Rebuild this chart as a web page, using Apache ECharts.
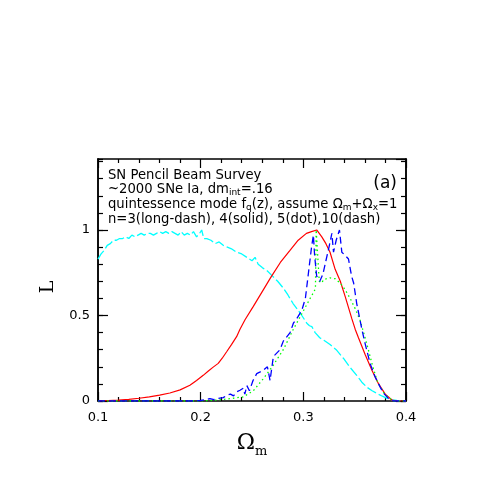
<!DOCTYPE html>
<html>
<head>
<meta charset="utf-8">
<script src="https://cdn.jsdelivr.net/npm/echarts@6/dist/echarts.min.js"></script>
<style>
html, body { margin: 0; padding: 0; background: #fff; }
#chart { width: 491px; height: 491px; }
</style>
</head>
<body>
<div id="chart"></div>
<script>
// n=3, long-dash (cyan)
var omegaN3 = [0.100,0.103,0.106,0.109,0.112,0.115,0.118,0.121,0.124,0.127,0.130,0.133,0.136,0.139,0.142,0.145,0.148,0.151,0.154,0.157,0.160,0.163,0.166,0.169,0.172,0.175,0.178,0.181,0.184,0.187,0.190,0.193,0.196,0.199,
  0.201,0.203,0.206,0.210,0.214,0.218,0.222,0.226,0.230,0.235,0.240,0.245,0.250,0.253,0.256,0.260,0.265,0.270,0.275,0.2805,0.285,0.290,0.295,0.2985,0.3034,0.306,0.3083,0.3115,0.316,
  0.320,0.326,0.332,0.339,0.345,0.352,0.357,0.362,0.367,0.372,0.377,0.382,0.387,0.391,0.395,0.400];
var likeN3 = [0.83,0.86,0.88,0.91,0.92,0.94,0.94,0.95,0.95,0.96,0.95,0.97,0.96,0.97,0.98,0.97,0.98,0.98,0.97,0.98,0.99,0.98,0.99,0.98,0.99,0.98,0.97,0.99,0.97,0.98,0.97,0.99,0.96,0.98,
  1.00,0.95,0.95,0.94,0.92,0.93,0.91,0.90,0.89,0.87,0.86,0.84,0.82,0.84,0.80,0.78,0.76,0.73,0.70,0.66,0.62,0.57,0.53,0.50,0.455,0.44,0.435,0.40,0.37,
  0.355,0.33,0.30,0.25,0.20,0.15,0.11,0.08,0.06,0.043,0.028,0.014,0.007,0.003,0.001,0];

// n=4, solid (red)
var omegaN4 = [0.100,0.110,0.120,0.130,0.140,0.150,0.160,0.170,0.180,0.1895,0.196,0.2025,0.2075,0.2122,0.2171,0.221,0.2253,0.230,0.235,0.2383,0.2432,0.2513,0.256,0.261,0.268,0.2776,0.287,0.295,0.303,
  0.308,0.313,0.318,0.322,0.326,0.331,0.336,0.3408,0.3473,0.3505,0.3537,0.357,0.3603,0.3668,0.3733,0.3798,0.3863,0.392,0.400];
var likeN4 = [0,0.002,0.005,0.01,0.016,0.024,0.034,0.047,0.065,0.092,0.12,0.15,0.175,0.198,0.22,0.25,0.288,0.33,0.376,0.42,0.475,0.553,0.60,0.65,0.72,0.81,0.88,0.94,0.98,
  0.99,1.00,0.96,0.92,0.87,0.77,0.70,0.61,0.48,0.42,0.37,0.32,0.27,0.18,0.10,0.04,0.006,0,0];

// n=5, dot (green)
var omegaN5 = [0.100,0.200,0.210,0.220,0.230,0.2415,0.2513,0.261,0.2708,0.2805,0.2903,0.2985,0.3066,0.3105,0.3118,0.3125,0.3140,0.3155,0.318,0.3196,
  0.3261,0.331,0.3359,0.3408,0.3456,0.3505,0.3554,0.362,0.3668,0.3717,0.3781,0.383,0.3879,0.400];
var likeN5 = [0,0,0.003,0.008,0.015,0.024,0.06,0.13,0.21,0.30,0.42,0.51,0.60,0.64,0.66,1.00,0.85,0.70,0.69,0.71,
  0.72,0.715,0.69,0.65,0.60,0.54,0.47,0.33,0.22,0.12,0.05,0.02,0,0];

// n=10, dash (blue)
var omegaN10 = [0.100,0.195,0.200,0.205,0.209,0.213,0.217,0.222,0.226,0.229,0.232,0.235,0.2383,0.2416,0.243,0.245,0.2475,0.251,0.2546,0.258,
  0.261,0.265,0.2676,0.2708,0.2773,0.2805,0.2871,0.2903,0.2945,0.2985,0.302,0.305,0.308,0.3098,0.311,0.313,0.316,0.319,0.322,0.325,
  0.3278,0.3294,0.332,0.3352,0.3375,0.341,0.344,0.347,0.349,0.352,0.357,0.360,0.365,0.370,0.3749,0.379,0.383,0.388,0.400];
var likeN10 = [0,0,0.003,0.008,0.014,0.008,0.015,0.02,0.035,0.04,0.03,0.053,0.063,0.075,0.04,0.09,0.06,0.12,0.16,0.17,
  0.18,0.2,0.12,0.26,0.30,0.35,0.40,0.455,0.49,0.53,0.60,0.75,0.90,0.97,0.85,0.73,0.70,0.74,0.82,0.90,
  0.98,0.87,0.94,1.00,0.87,0.85,0.83,0.73,0.69,0.57,0.42,0.34,0.22,0.14,0.08,0.04,0.014,0,0];

var xTicks = [0.1, 0.2, 0.3, 0.4];
var yTickLabels = [0, 0.5, 1];

function pairs(xs, ys) {
  return xs.map(function (x, i) { return [x, ys[i]]; });
}

var font = "DejaVu Sans";
var serif = "DejaVu Serif";
var yMax = 1.415;

function xAx(pos, showLabel) {
  return {
    type: "value", position: pos, min: 0.1, max: 0.4, interval: 0.1,
    axisLine: { onZero: false, lineStyle: { color: "#000", width: 1.5 } },
    axisTick: { inside: true, length: 9, lineStyle: { color: "#000", width: 1.2 } },
    minorTick: { show: true, splitNumber: 5, length: 4, lineStyle: { color: "#000", width: 1.2 } },
    splitLine: { show: false },
    axisLabel: {
      show: showLabel, margin: 10, color: "#000", fontFamily: font, fontSize: 13,
      formatter: function (v) {
        for (var i = 0; i < xTicks.length; i++) if (Math.abs(v - xTicks[i]) < 1e-6) return xTicks[i].toFixed(1);
        return "";
      }
    }
  };
}

function yAx(pos, step, len, showLabel) {
  return {
    type: "value", position: pos, min: 0, max: yMax, interval: step,
    axisLine: { onZero: false, lineStyle: { color: "#000", width: 1.5 } },
    axisTick: { inside: true, length: len, lineStyle: { color: "#000", width: 1.2 } },
    splitLine: { show: false },
    axisLabel: {
      show: showLabel, margin: 8, color: "#000", fontFamily: font, fontSize: 13, showMaxLabel: false,
      formatter: function (v) {
        for (var i = 0; i < yTickLabels.length; i++) if (Math.abs(v - yTickLabels[i]) < 1e-6) return String(yTickLabels[i]);
        return "";
      }
    }
  };
}

var xBottom = xAx("bottom", true);
xBottom.name = "{o|\u03A9}{s|m}";
xBottom.nameLocation = "middle";
xBottom.nameGap = 27;
xBottom.nameTextStyle = {
  rich: {
    o: { fontFamily: serif, fontSize: 22, color: "#000" },
    s: { fontFamily: serif, fontSize: 13, color: "#000", verticalAlign: "bottom", lineHeight: 30 }
  }
};

var yLeftMajor = yAx("left", 0.5, 10, true);
yLeftMajor.name = "L";
yLeftMajor.nameLocation = "middle";
yLeftMajor.nameGap = 40;
yLeftMajor.nameRotate = 90;
yLeftMajor.nameTextStyle = { fontFamily: serif, fontSize: 19, color: "#000", padding: [0, 14, 0, 0] };

var sub = { fontFamily: font, fontSize: 9, color: "#000", verticalAlign: "bottom", lineHeight: 15 };

var chart = echarts.init(document.getElementById("chart"));
chart.setOption({
  backgroundColor: "#fff",
  animation: false,
  title: [
    {
      left: 108, top: 168, padding: 0,
      text: "SN Pencil Beam Survey\n~2000 SNe Ia, dm{s|int}=.16\nquintessence mode f{s|q}(z), assume \u03A9{s|m}+\u03A9{s|x}=1\nn=3(long-dash), 4(solid), 5(dot),10(dash)",
      textStyle: { fontFamily: font, fontSize: 13.2, fontWeight: "normal", color: "#000", lineHeight: 14.2, rich: { s: sub } }
    },
    {
      right: 94, top: 175, padding: 0, text: "(a)",
      textStyle: { fontFamily: font, fontSize: 17, fontWeight: "normal", color: "#000" }
    }
  ],
  grid: { left: 98, right: 85, top: 159, bottom: 90 },
  xAxis: [xBottom, xAx("top", false)],
  yAxis: [
    yAx("left", 0.1, 5, false),
    yLeftMajor,
    yAx("right", 0.1, 5, false),
    yAx("right", 0.5, 10, false)
  ],
  series: [
    {
      name: "n=3", type: "line", showSymbol: false, data: pairs(omegaN3, likeN3),
      lineStyle: { color: "#00ffff", width: 1.3, type: [10, 3] }
    },
    {
      name: "n=4", type: "line", showSymbol: false, data: pairs(omegaN4, likeN4),
      lineStyle: { color: "#ff0000", width: 1.2, type: "solid" }
    },
    {
      name: "n=5", type: "line", showSymbol: false, data: pairs(omegaN5, likeN5),
      lineStyle: { color: "#00ff00", width: 1.3, type: [1.5, 3] }
    },
    {
      name: "n=10", type: "line", showSymbol: false, data: pairs(omegaN10, likeN10),
      lineStyle: { color: "#0000ff", width: 1.3, type: [7, 4] }
    }
  ]
});
</script>
</body>
</html>
